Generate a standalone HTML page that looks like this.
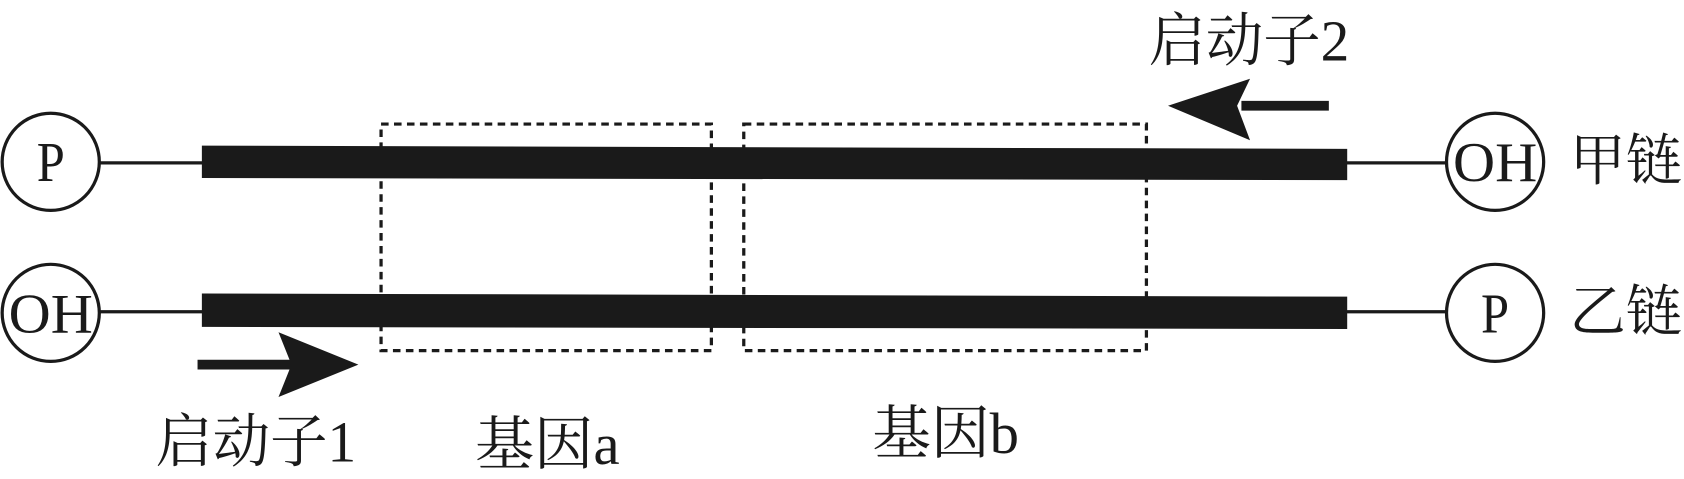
<!DOCTYPE html>
<html><head><meta charset="utf-8"><style>
html,body{margin:0;padding:0;background:#fff;}
svg{display:block;}
text{font-family:"Liberation Serif","Noto Serif CJK SC",serif;fill:#1a1a1a;}
</style></head><body>
<svg width="1684" height="479" viewBox="0 0 1560 444" preserveAspectRatio="none" xmlns="http://www.w3.org/2000/svg">
<g stroke="#1a1a1a" fill="none">
<circle cx="47" cy="150" r="45" stroke-width="3"/>
<circle cx="1385" cy="150" r="45" stroke-width="3"/>
<circle cx="47" cy="290" r="45" stroke-width="3"/>
<circle cx="1385" cy="290" r="45" stroke-width="3"/>
<line x1="92" y1="151" x2="188" y2="151" stroke-width="3"/>
<line x1="1247" y1="151" x2="1340" y2="151" stroke-width="3"/>
<line x1="92" y1="289" x2="188" y2="289" stroke-width="3"/>
<line x1="1247" y1="289" x2="1340" y2="289" stroke-width="3"/>
<rect x="353" y="115" width="306" height="210" stroke-width="3" stroke-dasharray="7,5"/>
<rect x="689" y="115" width="373" height="210" stroke-width="3" stroke-dasharray="7,5"/>
<line x1="183" y1="338" x2="272" y2="338" stroke-width="9"/>
<line x1="1150" y1="98" x2="1231" y2="98" stroke-width="9"/>
</g>
<polygon points="187,135 1248,138 1248,167 187,165" fill="#1a1a1a"/>
<polygon points="187,272 1248,275 1248,305 187,303" fill="#1a1a1a"/>
<polygon points="332,338 258,308 270,338 258,368" fill="#1a1a1a"/>
<polygon points="1082,98 1158,73 1146,98 1158,130" fill="#1a1a1a"/>
<text x="47" y="168" font-size="52" text-anchor="middle" textLength="26" lengthAdjust="spacingAndGlyphs">P</text>
<text x="1385" y="308" font-size="52" text-anchor="middle" textLength="26" lengthAdjust="spacingAndGlyphs">P</text>
<text x="47" y="308" font-size="52" text-anchor="middle" textLength="78" lengthAdjust="spacingAndGlyphs">OH</text>
<text x="1385" y="168" font-size="52" text-anchor="middle" textLength="78" lengthAdjust="spacingAndGlyphs">OH</text>
<text x="1454" y="167" font-size="52" textLength="104" lengthAdjust="spacingAndGlyphs">甲链</text>
<text x="1454" y="307" font-size="52" textLength="104" lengthAdjust="spacingAndGlyphs">乙链</text>
<text x="1064" y="56" font-size="54" textLength="186" lengthAdjust="spacingAndGlyphs">启动子2</text>
<text x="144" y="428" font-size="54" textLength="186" lengthAdjust="spacingAndGlyphs">启动子1</text>
<text x="440" y="430" font-size="54" textLength="134" lengthAdjust="spacingAndGlyphs">基因a</text>
<text x="808" y="420" font-size="54" textLength="136" lengthAdjust="spacingAndGlyphs">基因b</text>
</svg>
</body></html>
